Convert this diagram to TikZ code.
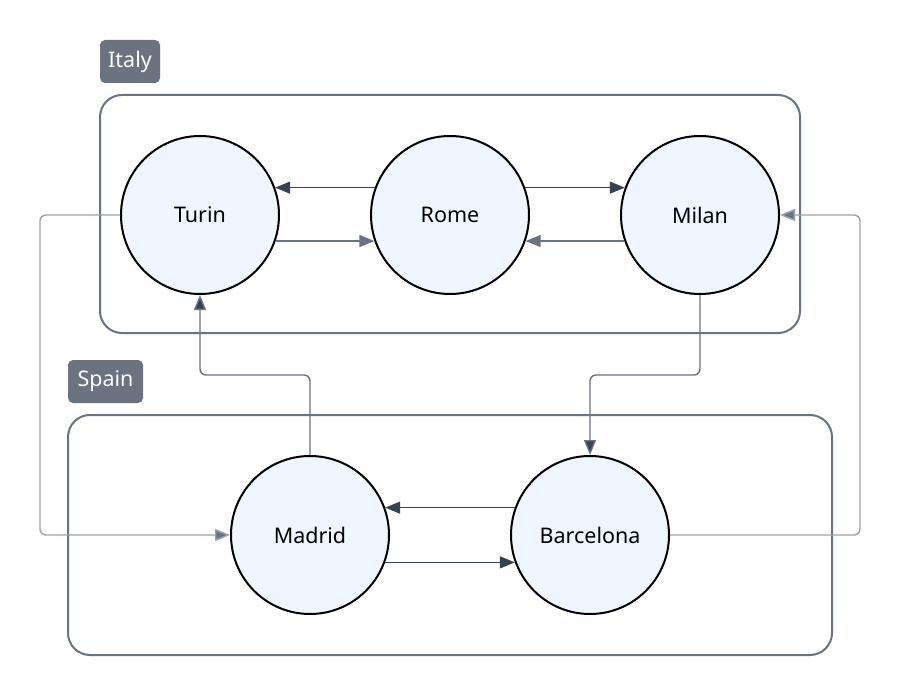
\documentclass[tikz,border=0pt]{standalone}
\usepackage{fontspec}
\setmainfont{Noto Sans}
\usetikzlibrary{arrows.meta}
\definecolor{nodefill}{HTML}{EFF6FF}
\definecolor{grpline}{HTML}{6B7280}
\definecolor{darkline}{HTML}{374151}
\definecolor{midline}{HTML}{6B7280}
\definecolor{lightline}{HTML}{9CA3AF}
\tikzset{
  city/.style={circle, draw=black, line width=2pt, fill=nodefill, minimum size=158pt, inner sep=0pt, font=\fontsize{21.5}{24}\selectfont},
  grpbox/.style={draw=grpline, line width=2pt, rounded corners=22pt},
  grplabel/.style={fill=grpline, rounded corners=5pt, text=white, inner sep=0pt, minimum height=43pt, font=\fontsize{21.5}{24}\selectfont},
  tipdark/.style={-{Triangle[length=15pt,width=12pt]}},
  darkarrow/.style={tipdark, draw=darkline, line width=1.4pt},
  midarrow/.style={-{Triangle[length=15pt,width=12pt]}, draw=midline, line width=1.4pt},
  elbowarrow/.style={-{Triangle[length=15pt,width=12pt,fill=darkline]}, draw=midline, line width=1.4pt, rounded corners=6pt},
  lightarrow/.style={-{Triangle[length=15pt,width=12pt,fill=midline]}, draw=lightline, line width=1.4pt, rounded corners=6pt},
}
\begin{document}
\begin{tikzpicture}[x=1pt,y=-1pt]
\useasboundingbox (0,0) rectangle (900,695);
% groups
\draw[grpbox] (100,95) rectangle (800,333);
\draw[grpbox] (68,415) rectangle (832,655);
\node[grplabel, minimum width=60pt] (italylbl) at (130,61.5) {Italy};
\node[grplabel, minimum width=75pt] (spainlbl) at (105.5,381.5) {Spain};
% nodes
\node[city] (Turin) at (200,215) {Turin};
\node[city] (Rome) at (450,215) {Rome};
\node[city] (Milan) at (700,215) {Milan};
\node[city] (Madrid) at (310,535) {Madrid};
\node[city] (Barcelona) at (590,535) {Barcelona};
% connectors
\draw[darkarrow] (Rome.160) -- (Turin.20);
\draw[midarrow] (Turin.-19) -- (Rome.199);
\draw[darkarrow] (Rome.20) -- (Milan.160);
\draw[midarrow] (Milan.199) -- (Rome.-19);
\draw[darkarrow] (Barcelona.160) -- (Madrid.20);
\draw[darkarrow] (Madrid.-20) -- (Barcelona.200);
\draw[lightarrow] (Turin.west) -- ++(-80,0) |- (Madrid.west);
\draw[elbowarrow] (Madrid.north) -- ++(0,-80) -| (Turin.south);
\draw[elbowarrow] (Milan.south) -- ++(0,80) -| (Barcelona.north);
\draw[lightarrow] (Barcelona.east) -- ++(190,0) |- (Milan.east);
\end{tikzpicture}
\end{document}
